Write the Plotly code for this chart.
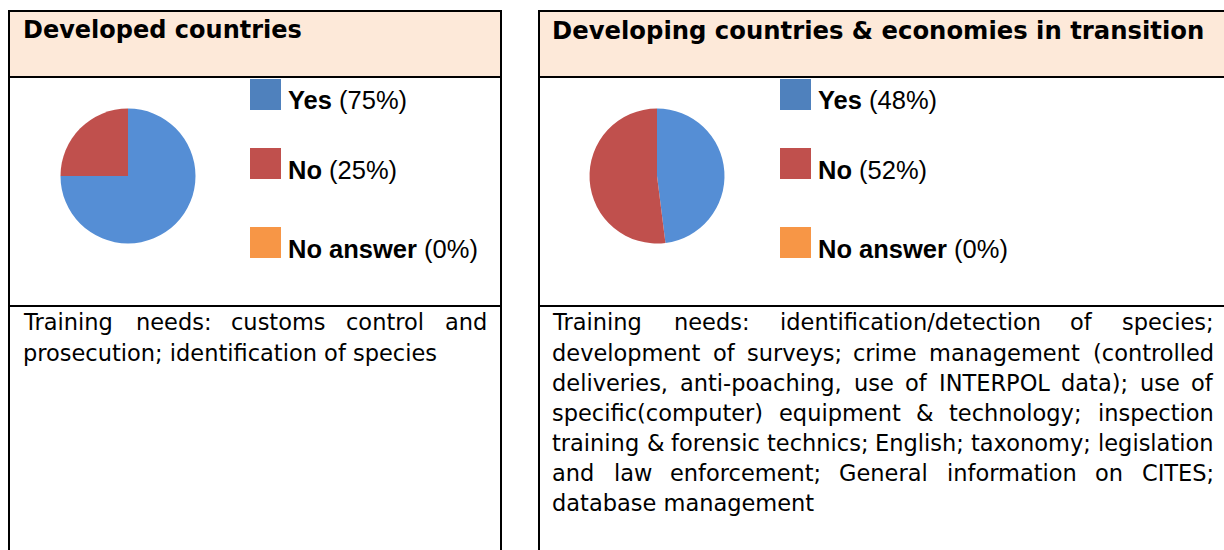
import plotly.graph_objects as go

W, H = 1224, 550

# ---- data -------------------------------------------------------------
categories = ["Yes", "No", "No answer"]
developed_values = [75, 25, 0]
developing_values = [48, 52, 0]
slice_colors = ["#558ED5", "#C0504D", "#F79646"]
key_colors = ["#4F81BD", "#C0504D", "#F79646"]
panel_titles = ["Developed countries",
                "Developing countries & economies in transition"]
developed_needs = [
    "Training needs: customs control and",
    "prosecution; identification of species",
]
developing_needs = [
    "Training needs: identification/detection of species;",
    "development of surveys; crime management (controlled",
    "deliveries, anti-poaching, use of INTERPOL data); use of",
    "specific(computer) equipment & technology; inspection",
    "training & forensic technics; English; taxonomy; legislation",
    "and law enforcement; General information on CITES;",
    "database management",
]

# ---- layout constants (pixels) ------------------------------------------
TOP, HEAD_BOTTOM, MID, BOTTOM = 11, 77, 306, 570
panels = [
    dict(x0=9, x1=501, pie_cx=128, key_x=250, text_x0=24, text_x1=486,
         title_size=24, values=developed_values, title=panel_titles[0],
         needs=developed_needs),
    dict(x0=539, x1=1240, pie_cx=657, key_x=780, text_x0=553, text_x1=1213,
         title_size=24.3, values=developing_values, title=panel_titles[1],
         needs=developing_needs),
]
PIE_CY, PIE_R = 176, 67.5
KEY_TOPS = [79, 148, 227]
KEY_SIZE = 31
KEY_TEXT_Y = [100, 170, 249]
KEY_FONT_SIZE = 25.5
BODY_Y0, BODY_STEP = 322.5, 30
BODY_SIZE = 22.5
BODY_FONT = "DejaVu Sans"
PAD = 3  # inner padding plotly adds around annotation text

# DejaVu Sans advance widths (per 1000 em)
DV = {" ": 318, "a": 613, "b": 635, "c": 550, "d": 635, "e": 615, "f": 352,
      "g": 635, "h": 634, "i": 278, "j": 278, "k": 579, "l": 278, "m": 974,
      "n": 634, "o": 612, "p": 635, "q": 635, "r": 411, "s": 521, "t": 392,
      "u": 634, "v": 592, "w": 818, "x": 592, "y": 592, "z": 525,
      "A": 684, "B": 686, "C": 698, "D": 770, "E": 632, "F": 575, "G": 775,
      "H": 752, "I": 295, "J": 295, "K": 656, "L": 557, "M": 863, "N": 748,
      "O": 787, "P": 603, "Q": 787, "R": 695, "S": 635, "T": 611, "U": 732,
      "V": 684, "W": 989, "X": 685, "Y": 611, "Z": 685,
      "(": 390, ")": 390, ",": 318, "-": 361, ".": 318, "/": 337, ":": 337,
      ";": 337, "&": 780, "%": 950}


def px(x):
    return x / W


def py(y):
    return 1 - y / H


def text_width(s, size):
    return sum(DV.get(c, 600) for c in s) / 1000 * size


fig = go.Figure()
shapes = []
annotations = []


def add_text(text, x, y, size, family, xanchor="left"):
    if xanchor == "left":
        x -= PAD
    elif xanchor == "right":
        x += PAD
    annotations.append(dict(
        text=text, x=px(x), y=py(y), xref="paper", yref="paper",
        xanchor=xanchor, yanchor="middle", showarrow=False,
        font=dict(family=family, size=size, color="black")))


def add_line(line, x0, x1, y, justify):
    if not justify:
        add_text(line, x0, y, BODY_SIZE, BODY_FONT)
        return
    words = line.split(" ")
    widths = [text_width(w, BODY_SIZE) for w in words]
    gap = (x1 - x0 - sum(widths)) / (len(words) - 1)
    x = x0
    for i, (word, wd) in enumerate(zip(words, widths)):
        if i == 0:
            add_text(word, x0, y, BODY_SIZE, BODY_FONT, "left")
        elif i == len(words) - 1:
            add_text(word, x1, y, BODY_SIZE, BODY_FONT, "right")
        else:
            add_text(word, x + wd / 2, y, BODY_SIZE, BODY_FONT, "center")
        x += wd + gap


for p in panels:
    # header band and cell borders
    shapes.append(dict(type="rect", xref="paper", yref="paper",
                       x0=px(p["x0"]), x1=px(p["x1"]), y0=py(TOP), y1=py(HEAD_BOTTOM),
                       fillcolor="#FDE9D9", line=dict(color="black", width=2),
                       layer="below"))
    shapes.append(dict(type="rect", xref="paper", yref="paper",
                       x0=px(p["x0"]), x1=px(p["x1"]), y0=py(HEAD_BOTTOM), y1=py(BOTTOM),
                       line=dict(color="black", width=2), layer="below"))
    shapes.append(dict(type="line", xref="paper", yref="paper",
                       x0=px(p["x0"]), x1=px(p["x1"]), y0=py(MID), y1=py(MID),
                       line=dict(color="black", width=2)))

    # title
    add_text(f"<b>{p['title']}</b>", p["text_x0"], 30, p["title_size"], "DejaVu Sans")

    # pie
    fig.add_trace(go.Pie(
        labels=categories, values=p["values"], sort=False,
        direction="clockwise", rotation=0,
        marker=dict(colors=slice_colors, line=dict(width=0)),
        textinfo="none", hoverinfo="label+percent", showlegend=False,
        domain=dict(x=[px(p["pie_cx"] - PIE_R), px(p["pie_cx"] + PIE_R)],
                    y=[py(PIE_CY + PIE_R), py(PIE_CY - PIE_R)])))

    # key
    total = sum(p["values"])
    for cat, val, col, top, ty in zip(categories, p["values"], key_colors,
                                      KEY_TOPS, KEY_TEXT_Y):
        shapes.append(dict(type="rect", xref="paper", yref="paper",
                           x0=px(p["key_x"]), x1=px(p["key_x"] + KEY_SIZE),
                           y0=py(top + KEY_SIZE), y1=py(top),
                           fillcolor=col, line=dict(width=0)))
        pct = round(100 * val / total)
        add_text(f"<b>{cat}</b> ({pct}%)", p["key_x"] + KEY_SIZE + 8, ty,
                 KEY_FONT_SIZE, "Liberation Sans")

    # training needs paragraph
    n = len(p["needs"])
    for i, line in enumerate(p["needs"]):
        add_line(line, p["text_x0"], p["text_x1"], BODY_Y0 + i * BODY_STEP,
                 justify=(i < n - 1))

fig.update_layout(
    width=W, height=H, margin=dict(l=0, r=0, t=0, b=0),
    paper_bgcolor="white", plot_bgcolor="white",
    shapes=shapes, annotations=annotations,
)

fig.write_html("out.html")
